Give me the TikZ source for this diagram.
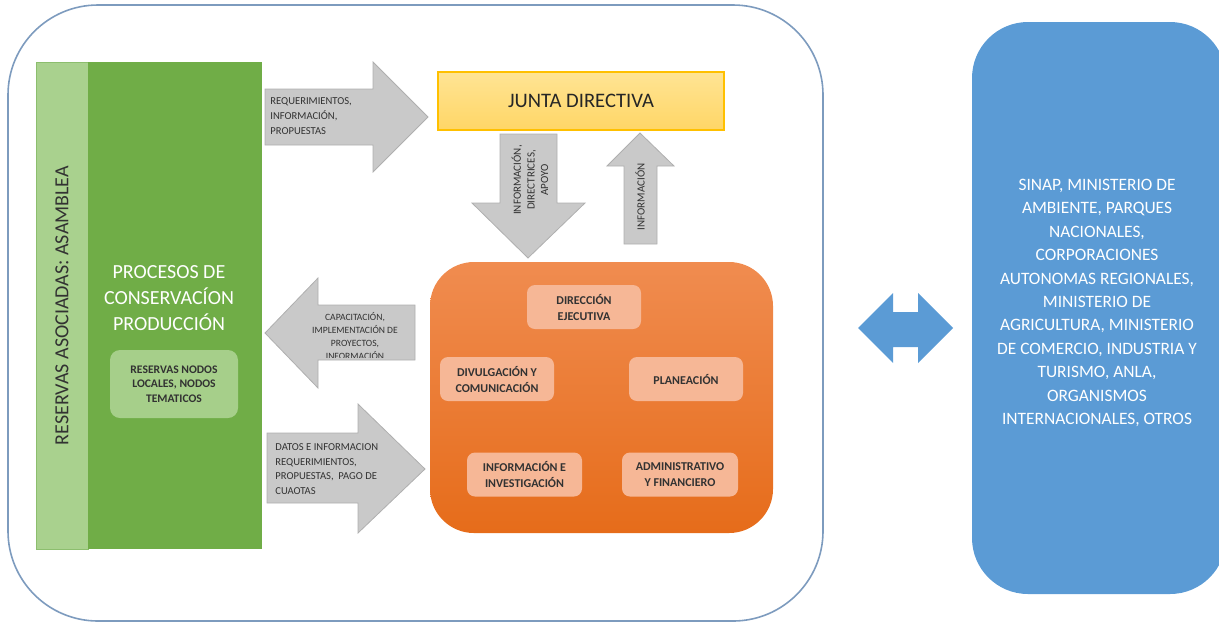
\documentclass[tikz,border=0pt]{standalone}
\usepackage{fontspec}
\setmainfont{Carlito}
\usetikzlibrary{positioning}

\definecolor{grnDark}{RGB}{112,173,71}
\definecolor{grnLight}{RGB}{169,209,142}
\definecolor{grnEdge}{RGB}{140,190,110}
\definecolor{grnInner}{RGB}{166,207,138}
\definecolor{arrGray}{RGB}{201,201,201}
\definecolor{arrEdge}{RGB}{175,175,175}
\definecolor{yelTop}{RGB}{255,228,148}
\definecolor{yelBot}{RGB}{255,214,102}
\definecolor{yelEdge}{RGB}{255,192,0}
\definecolor{orgTop}{RGB}{240,140,80}
\definecolor{orgBot}{RGB}{230,108,26}
\definecolor{subFill}{RGB}{246,183,150}
\definecolor{bluFill}{RGB}{91,155,213}
\definecolor{frameCol}{RGB}{125,155,190}
\definecolor{txtDark}{RGB}{50,50,50}

\tikzset{
  outerframe/.style={draw=frameCol, line width=0.8pt, rounded corners=45pt},
  strip/.style={fill=grnLight, draw=grnEdge, line width=0.4pt, inner sep=0pt,
    minimum width=243.5pt, minimum height=26pt, text=txtDark,
    font=\fontsize{10}{12}\selectfont},
  procbox/.style={fill=grnDark, inner sep=0pt, minimum width=87pt, minimum height=243.5pt},
  nodebox/.style={fill=grnInner, rounded corners=5pt, inner sep=0pt, minimum width=64pt,
    minimum height=34pt, align=center, text=txtDark, font=\bfseries\fontsize{5.8}{7.2}\selectfont},
  junta/.style={top color=yelTop, bottom color=yelBot, draw=yelEdge, line width=0.6pt,
    minimum width=143pt, minimum height=29pt, inner sep=0pt,
    font=\fontsize{10.3}{12}\selectfont, text=black!85},
  orgbox/.style={top color=orgTop, bottom color=orgBot, rounded corners=22pt,
    minimum width=171.5pt, minimum height=135.5pt, inner sep=0pt},
  subbox/.style={fill=subFill, rounded corners=4pt, minimum width=57pt, minimum height=22pt,
    inner sep=0pt, align=center, text=txtDark, font=\bfseries\fontsize{6}{8}\selectfont},
  extbox/.style={fill=bluFill, rounded corners=28pt, minimum width=127pt, minimum height=286pt,
    inner sep=0pt, align=center, text=white, font=\fontsize{8.7}{11.7}\selectfont},
  grayarrow/.style={fill=arrGray, draw=arrEdge, line width=0.4pt},
  bluearrow/.style={fill=bluFill},
  arrtext/.style={inner sep=0pt, text=txtDark, font=\fontsize{5.3}{7.4}\selectfont}
}

\begin{document}
\begin{tikzpicture}[x=0.5pt, y=-0.5pt]
  \useasboundingbox (0,0) rectangle (1219,623);
  \clip (0,0) rectangle (1219,623);

  % Outer frame
  \draw[outerframe] (8,5) rectangle (823,621);

  % Green column
  \node[strip, rotate=90] (asamblea) at (62,305.5) {RESERVAS ASOCIADAS: ASAMBLEA};
  \node[procbox] (procesos) at (175,305.5) {};
  \node[align=center, text=white, font=\fontsize{10}{13}\selectfont] (procTxt) at (169,298)
    {PROCESOS DE\\CONSERVACÍON\\PRODUCCIÓN};
  \node[nodebox] (nodos) at (174,384) {RESERVAS NODOS\\LOCALES, NODOS\\TEMATICOS};

  % Junta and direction
  \node[junta] (junta) at (581,101) {JUNTA DIRECTIVA};
  \node[orgbox] (equipo) at (601.5,397.5) {};
  \node[subbox] (dir) at (584,307) {DIRECCIÓN\\EJECUTIVA};
  \node[subbox] (divul) at (497,379) {DIVULGACIÓN Y\\COMUNICACIÓN};
  \node[subbox] (plan) at (686,379) {PLANEACIÓN};
  \node[subbox, minimum width=57.5pt] (inv) at (524.5,474.5) {INFORMACIÓN E\\INVESTIGACIÓN};
  \node[subbox, minimum width=58pt] (adm) at (680,474.5) {ADMINISTRATIVO\\Y FINANCIERO};

  % External entities
  \node[extbox] (ext) at (1099,308) {};
  \node[extbox, fill=none, minimum width=0pt, minimum height=0pt] (extTxt) at (1097,303)
    {SINAP, MINISTERIO DE\\AMBIENTE, PARQUES\\NACIONALES,\\CORPORACIONES\\AUTONOMAS REGIONALES,\\MINISTERIO DE\\AGRICULTURA, MINISTERIO\\DE COMERCIO, INDUSTRIA Y\\TURISMO, ANLA,\\ORGANISMOS\\INTERNACIONALES, OTROS};

  % Block arrows
  \draw[grayarrow] (265,89) -- (373,89) -- (373,62) -- (428,117) -- (373,172) -- (373,145) -- (265,145) -- cycle;
  \node[arrtext, anchor=west, align=left] (reqTxt) at (270,116) {REQUERIMIENTOS,\\INFORMACIÓN,\\PROPUESTAS};

  \draw[grayarrow] (500,134) -- (557,134) -- (557,203) -- (585,203) -- (528,258) -- (472,203) -- (500,203) -- cycle;
  \node[arrtext, rotate=90, align=center, font=\fontsize{5.5}{6.8}\selectfont] (bajaTxt) at (530,180) {INFORMACIÓN,\\DIRECTRICES,\\APOYO};

  \draw[grayarrow] (640,133) -- (674,166) -- (657,166) -- (657,244) -- (624,244) -- (624,166) -- (607,166) -- cycle;
  \node[arrtext, rotate=90, font=\fontsize{5.5}{6.8}\selectfont] (subeTxt) at (640,197) {INFORMACIÓN};

  \draw[grayarrow] (265,333) -- (318,278) -- (318,305) -- (415,305) -- (415,360) -- (318,360) -- (318,388) -- cycle;
  \begin{scope}
    \clip (265,300) rectangle (415,357.5);
    \node[arrtext, align=center, font=\fontsize{4.8}{6.5}\selectfont] (capTxt) at (355,336) {CAPACITACIÓN,\\IMPLEMENTACIÓN DE\\PROYECTOS,\\INFORMACIÓN};
  \end{scope}

  \draw[grayarrow] (267,433) -- (358,433) -- (358,404) -- (425,469) -- (358,533) -- (358,503) -- (267,503) -- cycle;
  \node[arrtext, anchor=west, align=left] (datTxt) at (275,469) {DATOS E INFORMACION\\REQUERIMIENTOS,\\PROPUESTAS,\ \ PAGO DE\\CUAOTAS};

  \fill[bluearrow] (858,328) -- (893,293) -- (893,312) -- (918,312) -- (918,293) -- (953,328)
    -- (918,363) -- (918,347) -- (893,347) -- (893,363) -- cycle;

\end{tikzpicture}
\end{document}
